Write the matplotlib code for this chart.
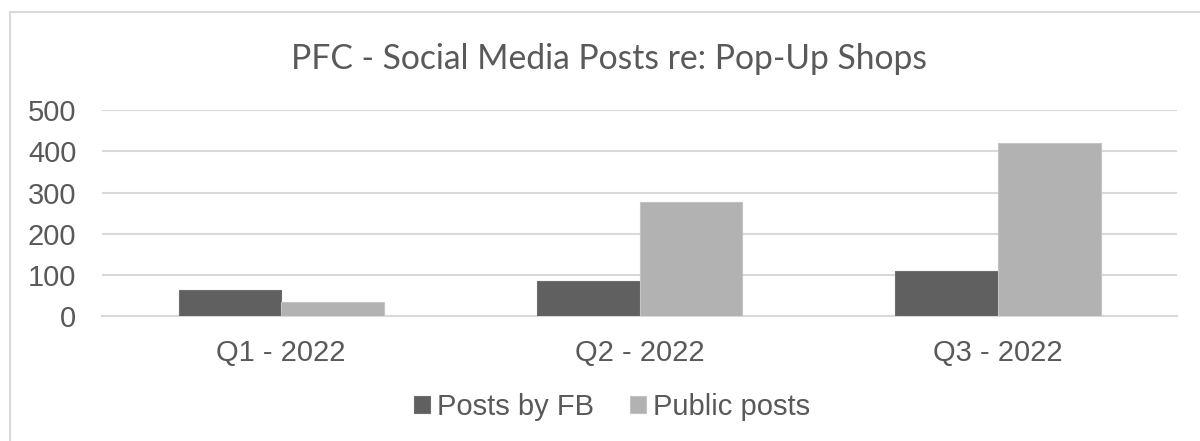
import matplotlib.pyplot as plt
import numpy as np
from matplotlib.lines import Line2D

quarters = ["Q1 - 2022", "Q2 - 2022", "Q3 - 2022"]
posts_fb = [63, 86, 109]
public_posts = [34, 278, 421]
series_names = ["Posts by FB", "Public posts"]

text_color = '#595959'

fig = plt.figure(figsize=(12, 4.41), dpi=100)
ax = fig.add_axes([0.085, 0.2828, 0.896, 0.4671])

x = np.arange(len(quarters))
w = 0.286
ax.bar(x - w / 2, posts_fb, width=w, color='#606060', edgecolor='#6e6e6e', linewidth=0.8,
       label=series_names[0], zorder=3)
ax.bar(x + w / 2, public_posts, width=w, color='#b2b2b2', edgecolor='#c4c4c4', linewidth=0.8,
       label=series_names[1], zorder=3)

ax.set_xlim(-0.5, 2.5)
ax.set_ylim(0, 500)
ax.set_yticks([0, 100, 200, 300, 400, 500])
ax.set_xticks(x)
ax.set_xticklabels(quarters)

ax.yaxis.grid(True, color='#d9d9d9', linewidth=1.5, zorder=0)
for s in ['top', 'right', 'left']:
    ax.spines[s].set_visible(False)
ax.spines['bottom'].set_color('#d9d9d9')
ax.spines['bottom'].set_linewidth(1.5)
ax.tick_params(axis='both', length=0, colors=text_color, labelsize=21)
ax.tick_params(axis='y', pad=18.5)
ax.tick_params(axis='x', pad=16)
for lbl in ax.get_xticklabels() + ax.get_yticklabels():
    lbl.set_fontfamily('Liberation Sans')

fig.text(609 / 1200, 1 - 69 / 441, "PFC - Social Media Posts re: Pop-Up Shops",
         ha='center', va='baseline', fontsize=24.2, color=text_color, family='Lato')

leg = fig.legend(loc='center', bbox_to_anchor=(612 / 1200, 1 - 407 / 441), ncol=2,
                 frameon=False, handlelength=0.55, handleheight=0.55, handletextpad=0.22,
                 columnspacing=1.25, prop={'family': 'Liberation Sans', 'size': 21})
for t in leg.get_texts():
    t.set_color(text_color)

# chart border (cropped on right and bottom)
fig.add_artist(Line2D([9.5 / 1200, 9.5 / 1200], [0, 1 - 11.5 / 441], color='#d9d9d9', linewidth=1.5))
fig.add_artist(Line2D([9.5 / 1200, 1], [1 - 11.5 / 441, 1 - 11.5 / 441], color='#d9d9d9', linewidth=1.5))

fig.savefig('out.png', dpi=100)
